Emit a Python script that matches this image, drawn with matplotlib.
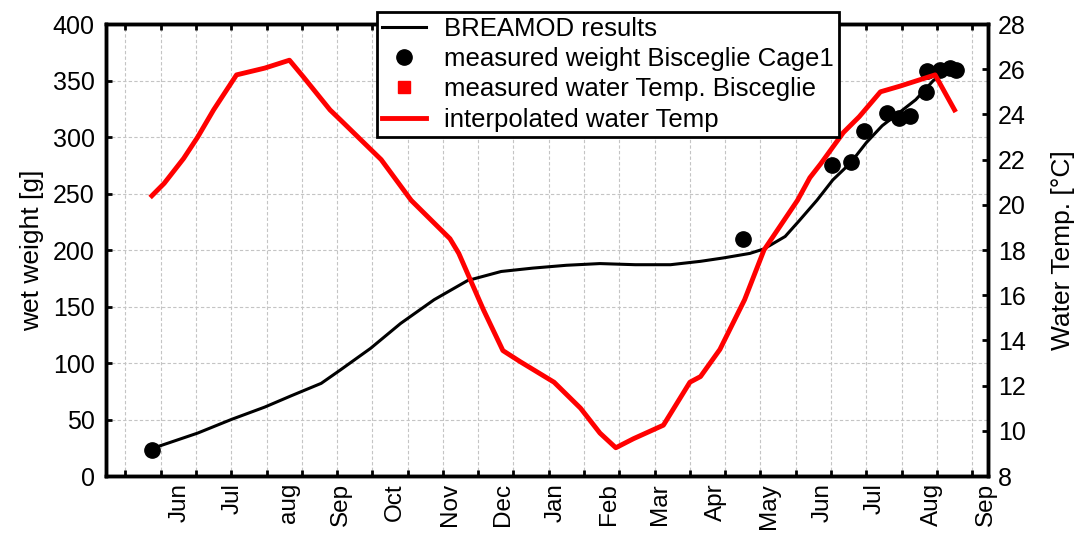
import numpy as np
import matplotlib.pyplot as plt
from matplotlib.lines import Line2D

plt.rcParams['font.family'] = ['Liberation Sans', 'DejaVu Sans']

# days since start of the run
model_days = [25.5, 35, 52, 71, 90, 105, 122, 133, 150, 167, 186, 205, 224, 242, 261,
              280, 300, 320, 337, 350, 365, 373, 385, 393, 403, 412, 422, 431, 440,
              450, 459, 469, 475, 482]
model_weight = [24, 29, 38, 50, 61, 71, 82, 94, 113, 135, 156, 173, 181, 184, 186.5,
                188, 187, 187, 190, 193, 197, 201, 212, 226, 244, 262, 277, 295, 310,
                322, 333, 350, 357, 358]

meas_days = [26, 361, 411.8, 422.6, 429.7, 442.7, 449.5, 456, 464.9, 465.5, 472.5, 478.6, 482]
meas_weight = [23, 210, 275, 278, 305, 321, 317, 319, 340, 358, 359, 361, 359]

temp_days = [26, 33, 44, 52, 61, 74, 90, 104, 112, 127, 133, 156, 173, 195, 200, 214,
             225, 235, 254, 269, 280, 289, 299, 316, 331, 337, 348, 362, 373, 392, 399,
             405, 418, 427, 439, 450, 470, 481]
temp_values = [20.4, 20.95, 22.05, 23.0, 24.2, 25.75, 26.05, 26.4, 25.65, 24.2, 23.75,
               22.0, 20.2, 18.5, 17.85, 15.35, 13.55, 13.05, 12.15, 11.0, 9.9, 9.25,
               9.65, 10.25, 12.15, 12.4, 13.6, 15.8, 18.0, 20.2, 21.2, 21.8, 23.2, 23.9,
               25.0, 25.25, 25.75, 24.2]

month_days = [42, 72, 104, 133, 164, 195, 225, 255, 285, 314, 346, 376, 406, 436, 468, 499]
month_labels = ['Jun', 'Jul', 'aug', 'Sep', 'Oct', 'Nov', 'Dec', 'Jan', 'Feb', 'Mar',
                'Apr', 'May', 'Jun', 'Jul', 'Aug', 'Sep']


def main():
    fig = plt.figure(figsize=(10.77, 5.34), dpi=100)
    ax = fig.add_axes([0.0984, 0.1086, 0.8190, 0.8464])
    ax2 = ax.twinx()

    ax.plot(model_days, model_weight, color='black', lw=2.2, zorder=3)
    ax.plot(meas_days, meas_weight, 'o', color='black', ms=11, zorder=4)
    ax2.plot(temp_days, temp_values, color='red', lw=3.5, zorder=3)

    ax.set_xlim(0, 500)
    ax.set_ylim(0, 400)
    ax2.set_ylim(8, 28)
    ax.set_yticks(np.arange(0, 401, 50))
    ax2.set_yticks(np.arange(8, 29, 2))

    # ticks every 20 days, month names as separate labels
    ax.set_xticks(np.arange(11, 500, 20))
    ax.set_xticklabels([])
    ax.set_xticks(month_days, minor=True)
    ax.set_xticklabels(month_labels, minor=True, rotation=90, fontsize=17.5)
    ax.tick_params(axis='x', which='minor', length=0, pad=5)
    ax.tick_params(axis='x', which='major', direction='in', length=4, width=2, top=True)
    ax.tick_params(axis='y', direction='in', length=4, width=2, labelsize=18, pad=8)
    ax2.tick_params(axis='y', direction='in', length=4, width=2, labelsize=18, pad=7)

    ax.grid(True, which='major', color='#c4c4c4', linestyle=(0, (3, 2)), lw=0.8)
    ax.set_axisbelow(True)

    for a in (ax, ax2):
        for s in a.spines.values():
            s.set_linewidth(2.5)

    ax.set_ylabel('wet weight [g]', fontsize=19, labelpad=6)
    ax2.set_ylabel('Water Temp. [°C]', fontsize=19, labelpad=18)

    handles = [
        Line2D([], [], color='black', lw=2.2),
        Line2D([], [], marker='o', ls='', color='black', ms=11),
        Line2D([], [], marker='s', ls='', color='red', ms=8),
        Line2D([], [], color='red', lw=3.5),
    ]
    labels = ['BREAMOD results', 'measured weight Bisceglie Cage1',
              'measured water Temp. Bisceglie', 'interpolated water Temp']
    leg = ax2.legend(handles, labels, loc='upper left', bbox_to_anchor=(0.35, 0.9775),
                     bbox_transform=fig.transFigure, borderaxespad=0, fontsize=18.5,
                     fancybox=False, framealpha=1, edgecolor='black', handlelength=1.7,
                     handletextpad=0.7, labelspacing=0.24, borderpad=0.2)
    leg.get_frame().set_linewidth(2)
    leg.set_zorder(10)

    fig.savefig('out.png', dpi=100)


if __name__ == "__main__":
    main()
